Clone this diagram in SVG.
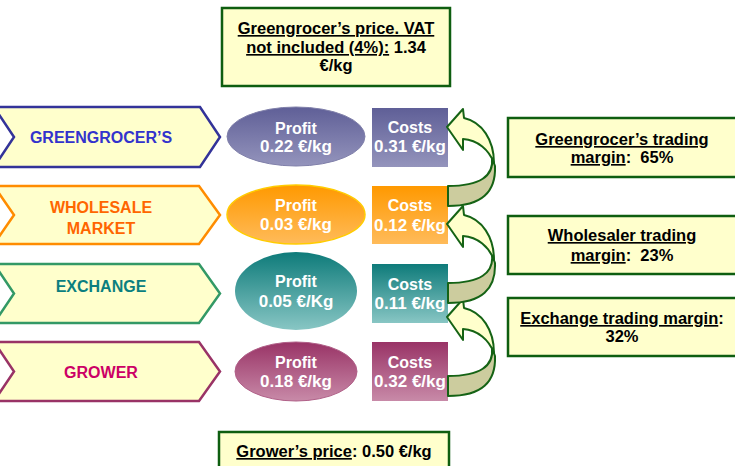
<svg xmlns="http://www.w3.org/2000/svg" width="735" height="466" viewBox="0 0 735 466">
<defs>
<style>
text{font-family:"Liberation Sans",Arial,sans-serif;font-weight:bold;text-anchor:middle}
.chev{fill:#ffffcc;stroke-width:2.5}
.lbl{font-size:16px}
.wt{fill:#ffffff;font-size:16px}
.wv{fill:#ffffff;font-size:17px}
.box{fill:#ffffcc;stroke:#0e5e10;stroke-width:2.5}
.bt{fill:#000000;font-size:16.5px}
.u{text-decoration:underline}
.arrF{fill:#ffffcc;stroke:#156315;stroke-width:2;stroke-linejoin:round}
.arrB{fill:#cccc9e;stroke:#156315;stroke-width:2;stroke-linejoin:round}
</style>
<linearGradient id="gBlue" x1="0" y1="0" x2="0" y2="1"><stop offset="0" stop-color="#5f5f97"/><stop offset="1" stop-color="#9494bc"/></linearGradient>
<linearGradient id="gOrange" x1="0" y1="0" x2="0" y2="1"><stop offset="0" stop-color="#ff9900"/><stop offset="1" stop-color="#ffbb5a"/></linearGradient>
<linearGradient id="gTeal" x1="0" y1="0" x2="0" y2="1"><stop offset="0" stop-color="#0e7b7a"/><stop offset="1" stop-color="#88c6c4"/></linearGradient>
<linearGradient id="gPurple" x1="0" y1="0" x2="0" y2="1"><stop offset="0" stop-color="#993366"/><stop offset="1" stop-color="#c88aa8"/></linearGradient>
<g id="curl">
<path class="arrB" d="M492,158 C494,176 480,186 448,186 L448,206 C482,206 496,192 495,166 Z"/>
<path class="arrF" d="M447,127 L463,109 L464,118 C482,122 494,140 494,163 C489,150 478,140 463,139 L463,150 Z"/>
</g>
</defs>

<g id="greengrocer-price">
<rect class="box" x="222" y="8" width="228" height="78"/>
<text class="bt" x="336" y="34"><tspan class="u">Greengrocer’s price. VAT</tspan></text>
<text class="bt" x="336" y="53"><tspan class="u">not included (4%):</tspan> 1.34</text>
<text class="bt" x="336" y="71">€/kg</text>
</g>

<g id="greengrocers">
<polygon class="chev" stroke="#333399" points="-6,107 200,107 220,137 200,167 -6,167 14,137"/>
<text class="lbl" fill="#3333cc" x="101" y="143">GREENGROCER’S</text>
</g>
<g id="profit-greengrocer">
<ellipse cx="296" cy="136.5" rx="69" ry="29.5" fill="url(#gBlue)" stroke="#8080aa" stroke-width="1"/>
<text class="wt" x="296" y="134">Profit</text>
<text class="wv" x="296" y="152">0.22 €/kg</text>
</g>
<g id="costs-greengrocer">
<rect x="372" y="108" width="76" height="59" fill="url(#gBlue)"/>
<text class="wt" x="410" y="133">Costs</text>
<text class="wv" x="410" y="152">0.31 €/kg</text>
</g>

<g id="wholesale">
<polygon class="chev" stroke="#ff8c00" points="-6,186 199,186 220,215 199,244 -6,244 14,215"/>
<text class="lbl" fill="#ff6600" x="101" y="213">WHOLESALE</text>
<text class="lbl" fill="#ff6600" x="101" y="234">MARKET</text>
</g>
<g id="profit-wholesale">
<ellipse cx="296" cy="214.5" rx="69" ry="29.5" fill="url(#gOrange)" stroke="#ffcc00" stroke-width="1.5"/>
<text class="wt" x="296" y="211">Profit</text>
<text class="wv" x="296" y="230">0.03 €/kg</text>
</g>
<g id="costs-wholesale">
<rect x="372" y="186" width="76" height="58" fill="url(#gOrange)"/>
<text class="wt" x="410" y="211">Costs</text>
<text class="wv" x="410" y="231">0.12 €/kg</text>
</g>

<g id="exchange">
<polygon class="chev" stroke="#339966" points="-6,264 199,264 220,293.5 199,323 -6,323 14,293.5"/>
<text class="lbl" fill="#0b7f7f" x="101" y="292">EXCHANGE</text>
</g>
<g id="profit-exchange">
<ellipse cx="296" cy="291" rx="61" ry="39" fill="url(#gTeal)"/>
<text class="wt" x="296" y="287">Profit</text>
<text class="wv" x="296" y="307">0.05 €/Kg</text>
</g>
<g id="costs-exchange">
<rect x="372" y="264" width="76" height="59" fill="url(#gTeal)"/>
<text class="wt" x="410" y="290">Costs</text>
<text class="wv" x="410" y="309">0.11 €/kg</text>
</g>

<g id="grower">
<polygon class="chev" stroke="#993366" points="-6,342 199,342 220,371.5 199,401 -6,401 14,371.5"/>
<text class="lbl" fill="#cc0066" x="101" y="378">GROWER</text>
</g>
<g id="profit-grower">
<ellipse cx="296" cy="371.5" rx="61" ry="29.5" fill="url(#gPurple)" stroke="#b06088" stroke-width="1"/>
<text class="wt" x="296" y="368">Profit</text>
<text class="wv" x="296" y="387">0.18 €/kg</text>
</g>
<g id="costs-grower">
<rect x="372" y="342" width="76" height="59" fill="url(#gPurple)"/>
<text class="wt" x="410" y="368">Costs</text>
<text class="wv" x="410" y="387">0.32 €/kg</text>
</g>

<g id="connectors">
<use href="#curl" transform="translate(0,190)"/>
<use href="#curl" transform="translate(0,97)"/>
<use href="#curl"/>
</g>

<g id="greengrocer-margin">
<rect class="box" x="508" y="118" width="240" height="59"/>
<text class="bt" x="622" y="145"><tspan class="u">Greengrocer’s trading</tspan></text>
<text class="bt" x="622" y="163"><tspan class="u">margin</tspan>:&#160; 65%</text>
</g>
<g id="wholesaler-margin">
<rect class="box" x="508" y="216" width="240" height="58"/>
<text class="bt" x="622" y="241"><tspan class="u">Wholesaler trading</tspan></text>
<text class="bt" x="622" y="261"><tspan class="u">margin</tspan>:&#160; 23%</text>
</g>
<g id="exchange-margin">
<rect class="box" x="508" y="298" width="240" height="58"/>
<text class="bt" x="622" y="324"><tspan class="u">Exchange trading margin</tspan>:</text>
<text class="bt" x="622" y="342">32%</text>
</g>

<g id="grower-price">
<rect class="box" x="219" y="432" width="230" height="40"/>
<text class="bt" x="334" y="457"><tspan class="u">Grower’s price</tspan>: 0.50 €/kg</text>
</g>
</svg>
